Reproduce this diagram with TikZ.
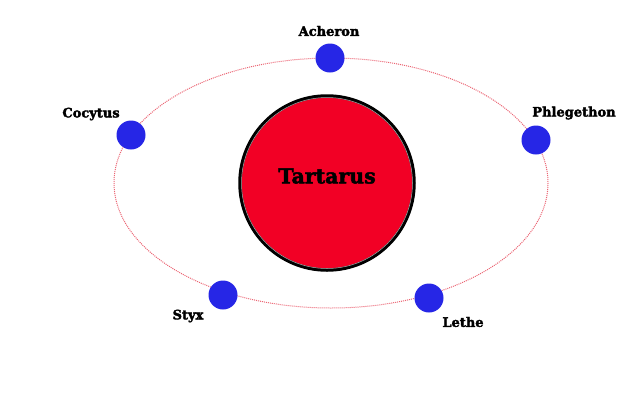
\documentclass[tikz,border=0pt]{standalone}
\usepackage{fontspec}
\setmainfont{DejaVu Serif}
\newfontfamily\heavy[FakeBold=2.5]{DejaVu Serif Bold}
\definecolor{orbit}{RGB}{235,100,115}
\definecolor{tred}{RGB}{242,0,37}
\definecolor{pblue}{RGB}{38,38,230}
\begin{document}
\begin{tikzpicture}[x=1pt,y=-1pt,
  planet/.style={circle,fill=pblue,minimum size=29pt,inner sep=0pt},
  lbl/.style={font=\heavy\fontsize{13}{15}\selectfont,text=black}]
\useasboundingbox (0,0) rectangle (640,400);
\draw[orbit,line width=1pt,densely dotted] (331,183) ellipse [x radius=217, y radius=125];
\node[circle,fill=tred,draw=black,line width=3.5pt,minimum size=174pt,inner sep=0pt] (tartarus) at (327,183) {};
\draw[gray!60,line width=0.5pt] (tartarus.center) circle [radius=85.5];
\node[font=\heavy\fontsize{20.5}{23}\selectfont] (tlabel) at (327,176) {Tartarus};
\node[planet] (acheron) at (330,58) {};
\node[planet] (phleg) at (536,140) {};
\node[planet] (cocytus) at (131,135) {};
\node[planet] (styx) at (223,295) {};
\node[planet] (lethe) at (429,298) {};
\node[lbl] (la) at (329,31) {Acheron};
\node[lbl] (lp) at (574,113) {Phlegethon};
\node[lbl] (lc) at (91,114) {Cocytus};
\node[lbl] (ls) at (188,316) {Styx};
\node[lbl] (ll) at (463,322) {Lethe};
\end{tikzpicture}
\end{document}
